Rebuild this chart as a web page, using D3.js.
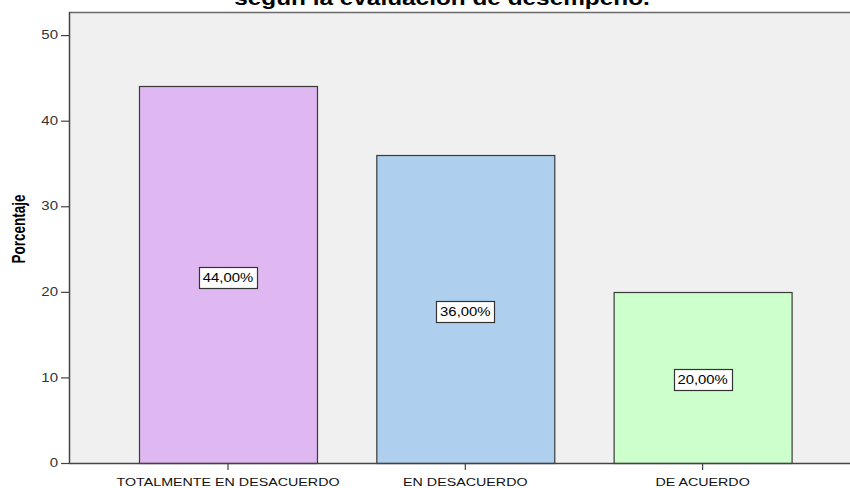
<!DOCTYPE html>
<html>
<head>
<meta charset="utf-8">
<script src="https://cdn.jsdelivr.net/npm/d3@7"></script>
<style>
  html, body { margin: 0; padding: 0; background: #ffffff; }
  svg { display: block; font-family: "Liberation Sans", Arial, sans-serif; }
</style>
</head>
<body>
<svg id="chart" width="850" height="488"></svg>
<script>
// Percentage of responses per answer category
const categories = ["TOTALMENTE EN DESACUERDO", "EN DESACUERDO", "DE ACUERDO"];
const percentages = [44, 36, 20];
const valueLabels = ["44,00%", "36,00%", "20,00%"];
const barColors = ["#dfb8f2", "#aecfee", "#ccffcc"];
const yTicks = [0, 10, 20, 30, 40, 50];
const yMax = 52.7;
const titleText = "según la evaluación de desempeño.";
const yTitle = "Porcentaje";

const svg = d3.select("#chart");
const stretch = 1.22; // text is drawn slightly wide

const plot = { left: 69, top: 12, bottom: 463, right: 861.6 };

const x = d3.scaleBand()
  .domain(categories)
  .range([plot.left, plot.right])
  .paddingInner(0.25)
  .paddingOuter(0.295);

const y = d3.scaleLinear()
  .domain([0, yMax])
  .range([plot.bottom, plot.top]);

// plot background
svg.append("rect")
  .attr("x", plot.left).attr("y", plot.top)
  .attr("width", plot.right - plot.left)
  .attr("height", plot.bottom - plot.top)
  .attr("fill", "#f0f0f0")
  .attr("stroke", "none");

// top frame line
svg.append("line")
  .attr("x1", plot.left).attr("x2", plot.right)
  .attr("y1", plot.top + 0.5).attr("y2", plot.top + 0.5)
  .attr("stroke", "#6a6a6a").attr("stroke-width", 1.5);

// helper: stretched text
function sText(g, tx, ty, str, opts) {
  const grp = g.append("g").attr("transform", `translate(${tx},${ty}) scale(${opts.sx || stretch},1)`);
  const t = grp.append("text")
    .attr("text-anchor", opts.anchor || "middle")
    .attr("font-size", opts.size)
    .attr("font-weight", opts.weight || "normal")
    .attr("fill", opts.fill || "#000")
    .text(str);
  if (opts.dy) t.attr("dy", opts.dy);
  return grp;
}

// bars
svg.append("g").selectAll("rect")
  .data(percentages)
  .join("rect")
  .attr("x", (d, i) => x(categories[i]) + 0.5)
  .attr("y", d => Math.round(y(d)) + 0.5)
  .attr("width", x.bandwidth())
  .attr("height", d => plot.bottom - Math.round(y(d)))
  .attr("fill", (d, i) => barColors[i])
  .attr("stroke", "#3a3a3a")
  .attr("stroke-width", 1.2);

// y axis
const yAxis = d3.axisLeft(y).tickValues(yTicks).tickSize(8).tickPadding(3).tickFormat(d3.format("d"));
const yg = svg.append("g").attr("transform", `translate(${plot.left},0)`).call(yAxis);
yg.select(".domain").remove();
yg.selectAll(".tick line").attr("stroke", "#444").attr("stroke-width", 1.2);
yg.selectAll(".tick text").remove();
yTicks.forEach(v => {
  sText(svg, plot.left - 11, y(v), String(v), { size: 12, anchor: "end", fill: "#333", dy: "0.35em", sx: 1.25 });
});
svg.append("line")
  .attr("x1", plot.left + 0.5).attr("x2", plot.left + 0.5)
  .attr("y1", plot.top).attr("y2", plot.bottom + 1)
  .attr("stroke", "#444").attr("stroke-width", 1.5);

// x axis
const xAxis = d3.axisBottom(x).tickSize(7).tickFormat("");
const xg = svg.append("g").attr("transform", `translate(0,${plot.bottom})`).call(xAxis);
xg.select(".domain").remove();
xg.selectAll(".tick line").attr("stroke", "#444").attr("stroke-width", 1.2);
svg.append("line")
  .attr("x1", plot.left).attr("x2", plot.right)
  .attr("y1", plot.bottom + 0.5).attr("y2", plot.bottom + 0.5)
  .attr("stroke", "#444").attr("stroke-width", 1.5);
categories.forEach(c => {
  sText(svg, x(c) + x.bandwidth() / 2, 485.5, c, { size: 11.7, fill: "#111" });
});

// value labels in boxes
percentages.forEach((v, i) => {
  const cx = x(categories[i]) + x.bandwidth() / 2;
  const cy = (y(v) + y(0)) / 2 + 2.5;
  const w = 58, h = 21;
  svg.append("rect")
    .attr("x", Math.round(cx - w / 2) + 0.5)
    .attr("y", Math.round(cy - h / 2) + 0.5)
    .attr("width", w).attr("height", h)
    .attr("fill", "#ffffff")
    .attr("stroke", "#333").attr("stroke-width", 1.2);
  sText(svg, cx, cy, valueLabels[i], { size: 12, fill: "#000", dy: "0.36em", sx: 1.24 });
});

// y axis title (glyphs widened horizontally like the other texts)
svg.append("g")
  .attr("transform", "translate(25,229) scale(1.4,1)")
  .append("text")
  .attr("transform", "rotate(-90)")
  .attr("text-anchor", "middle")
  .attr("font-size", 13.5)
  .attr("font-weight", "bold")
  .attr("fill", "#000")
  .text(yTitle);

// chart title (partly outside the top edge)
sText(svg, 442, 5, titleText, { size: 19.5, weight: "bold", fill: "#000", sx: 1.25 });
</script>
</body>
</html>
